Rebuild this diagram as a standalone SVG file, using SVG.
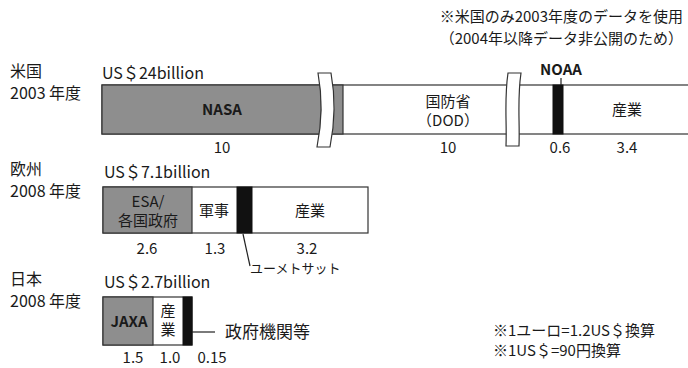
<svg xmlns="http://www.w3.org/2000/svg" width="688" height="368" viewBox="0 0 688 368">
<style>
text{font-family:"Noto Sans CJK JP","Noto Sans",sans-serif;fill:#1a1a1a}
.lbl{font-size:16px}
.num{font-size:15px;text-anchor:middle}
.in{font-size:15px;text-anchor:middle}
.note{font-size:15px}
.g{fill:#8e8e8e;stroke:#333;stroke-width:1.2}
.w{fill:#fff;stroke:#333;stroke-width:1.2}
.b{fill:#111;stroke:#111;stroke-width:1}
.ln{stroke:#222;stroke-width:1.2;fill:none}
</style>
<rect width="688" height="368" fill="#fff"/>
<g id="notes">
<text class="note" x="683" y="22" text-anchor="end">※米国のみ2003年度のデータを使用</text>
<text class="note" x="683" y="44" text-anchor="end">（2004年以降データ非公開のため）</text>
<text class="note" x="493" y="336">※1ユーロ=1.2US＄換算</text>
<text class="note" x="493" y="356">※1US＄=90円換算</text>
</g>
<g id="us">
<text class="lbl" x="10" y="77">米国</text>
<text class="lbl" x="10" y="99">2003 年度</text>
<text class="lbl" x="102" y="79">US＄24billion</text>
<rect class="w" x="102" y="85" width="590" height="49"/>
<rect class="g" x="102" y="85" width="241" height="49"/>
<rect class="b" x="553" y="85" width="10" height="49"/>
<text class="in" x="222" y="115" font-weight="bold">NASA</text>
<text class="in" x="448" y="107">国防省</text>
<text class="in" x="448" y="126">（DOD）</text>
<text class="in" x="627" y="115">産業</text>
<text class="in" x="561" y="75" font-weight="bold">NOAA</text>
<text class="num" x="222" y="153">10</text>
<text class="num" x="448" y="153">10</text>
<text class="num" x="560" y="153">0.6</text>
<text class="num" x="627" y="153">3.4</text>
</g>
<g id="breaks">
<path class="w" d="M318,73 C323,100 322,122 317,147 L330,147 C335,122 336,100 331,73 Z"/>
<path class="w" d="M508,73 C504,100 507,122 506,146 L519,146 C520,122 517,100 521,73 Z"/>
</g>
<g id="europe">
<text class="lbl" x="10" y="175">欧州</text>
<text class="lbl" x="10" y="197">2008 年度</text>
<text class="lbl" x="104" y="178">US＄7.1billion</text>
<rect class="w" x="103" y="187" width="265" height="46"/>
<rect class="g" x="103" y="187" width="89" height="46"/>
<rect class="b" x="237" y="187" width="15" height="46"/>
<text class="in" x="148" y="207">ESA/</text>
<text class="in" x="148" y="226">各国政府</text>
<text class="in" x="214" y="216">軍事</text>
<text class="in" x="310" y="216">産業</text>
<text class="num" x="147" y="254">2.6</text>
<text class="num" x="215" y="254">1.3</text>
<text class="num" x="307" y="254">3.2</text>
<text x="250" y="273" font-size="13">ユーメトサット</text>
</g>
<g id="japan">
<text class="lbl" x="10" y="285">日本</text>
<text class="lbl" x="10" y="307">2008 年度</text>
<text class="lbl" x="104" y="288">US＄2.7billion</text>
<rect class="w" x="103" y="297" width="89" height="48"/>
<rect class="g" x="103" y="297" width="50" height="48"/>
<rect class="b" x="183" y="297" width="9" height="48"/>
<text class="in" x="129" y="327" font-weight="bold" font-size="14">JAXA</text>
<text class="in" x="168" y="316" font-size="13">産</text>
<text class="in" x="168" y="335" font-size="13">業</text>
<text x="225" y="338" font-size="17">政府機関等</text>
<text class="num" x="133" y="363">1.5</text>
<text class="num" x="170" y="363">1.0</text>
<text class="num" x="212" y="363">0.15</text>
</g>
<g id="connectors">
<line class="ln" x1="561" y1="78" x2="561" y2="85"/>
<line class="ln" x1="243" y1="234" x2="250" y2="266"/>
<line class="ln" x1="192" y1="332" x2="215" y2="332"/>
</g>
</svg>
